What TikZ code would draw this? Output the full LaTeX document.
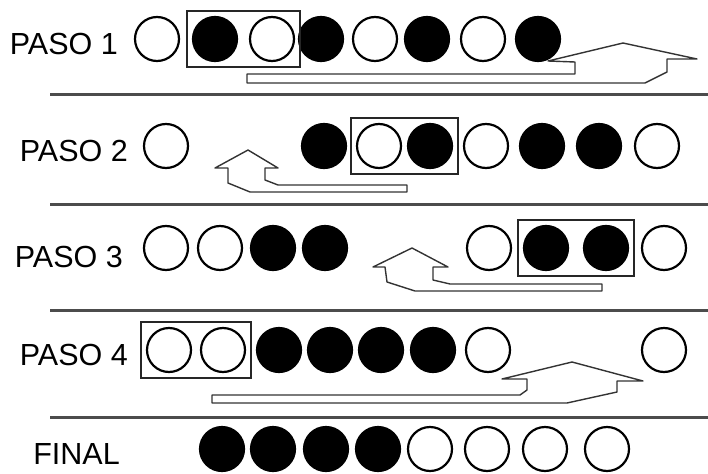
\documentclass[tikz,border=0pt]{standalone}
\usepackage{fontspec}
\setmainfont{Liberation Sans}
\usetikzlibrary{fit}

\begin{document}
\begin{tikzpicture}[
  x=1pt, y=-1pt,
  font=\fontsize{30.5}{33}\selectfont,
  bead/.style={circle, draw=black, line width=2.2pt, minimum size=44pt, inner sep=0pt},
  steplabel/.style={anchor=base east, inner sep=0pt},
  divider/.style={line width=3pt, draw=black!70},
  pairbox/.style={draw=black!85, line width=1.5pt, inner sep=5pt},
  jump/.style={draw=black!80, line width=1.4pt, fill=white, line join=round}
]
\useasboundingbox (0,0) rectangle (708,473);

% labels
\node[steplabel] (l1) at (118,55) {PASO 1};
\node[steplabel] (l2) at (128,161) {PASO 2};
\node[steplabel] (l3) at (123,267) {PASO 3};
\node[steplabel] (l4) at (128,365) {PASO 4};
\node[steplabel] (l5) at (120,464) {FINAL};

% moving arrows (drawn first, beads go on top)
\draw[jump] (247,74) -- (575,74) -- (575,62) -- (548,61) -- (623,43) -- (697,59)
  -- (667,59) -- (667,72) -- (645,83) -- (247,83) -- cycle;
\draw[jump] (407,185) -- (278,185) -- (265,180) -- (265,168) -- (278,168) -- (248,150)
  -- (215,168) -- (228,168) -- (228,183) -- (250,192) -- (407,192) -- cycle;
\draw[jump] (602,284) -- (450,284) -- (433,280) -- (433,267) -- (448,267) -- (412,248)
  -- (373,267) -- (385,267) -- (387,282) -- (415,291) -- (602,291) -- cycle;
\draw[jump] (212,395) -- (520,395) -- (527,390) -- (527,379) -- (502,379) -- (572,362)
  -- (643,381) -- (617,381) -- (617,392) -- (567,403) -- (212,403) -- cycle;

% beads
\foreach \x/\c [count=\i] in {157/white,215/black,272/white,321/black,375/white,427/black,483/white,538/black}
  \node[bead, fill=\c] (p1-\i) at (\x,39) {};
\foreach \x/\c [count=\i] in {166/white,324/black,379/white,430/black,486/white,542/black,599/black,657/white}
  \node[bead, fill=\c] (p2-\i) at (\x,146) {};
\foreach \x/\c [count=\i] in {166/white,220/white,273/black,325/black,489/white,546/black,606/black,664/white}
  \node[bead, fill=\c] (p3-\i) at (\x,248) {};
\foreach \x/\c [count=\i] in {169/white,223/white,279/black,330/black,381/black,433/black,488/white,664/white}
  \node[bead, fill=\c] (p4-\i) at (\x,350) {};
\foreach \x/\c [count=\i] in {222/black,273/black,326/black,378/black,430/white,487/white,545/white,607/white}
  \node[bead, fill=\c] (p5-\i) at (\x,449) {};

% chosen pairs
\node[pairbox, fit=(p1-2)(p1-3)] (box1) {};
\node[pairbox, fit=(p2-3)(p2-4)] (box2) {};
\node[pairbox, fit=(p3-6)(p3-7)] (box3) {};
\node[pairbox, fit=(p4-1)(p4-2)] (box4) {};

% separators
\draw[divider] (50,95) -- (708,95);
\draw[divider] (50,204) -- (708,204);
\draw[divider] (50,310) -- (708,310);
\draw[divider] (50,417) -- (708,417);

\end{tikzpicture}
\end{document}
